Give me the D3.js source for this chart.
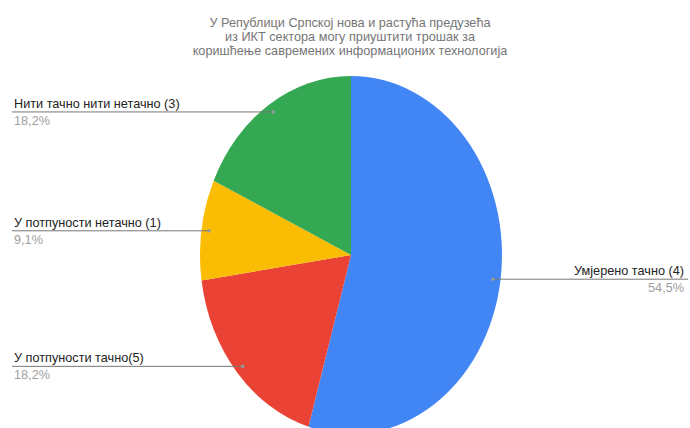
<!DOCTYPE html>
<html lang="sr">
<head>
<meta charset="utf-8">
<script src="https://d3js.org/d3.v7.min.js"></script>
<style>
body { margin: 0; background: #fff; font-family: Arial, "Liberation Sans", sans-serif; }
</style>
</head>
<body>
<div id="chart"></div>
<script>
// data
var titleLines = [
  "У Републици Српској нова и растућа предузећа",
  "из ИКТ сектора могу приуштити трошак за",
  "коришћење савремених информационих технологија"
];
var labels = ["Умјерено тачно (4)", "У потпуности тачно(5)", "У потпуности нетачно (1)", "Нити тачно нити нетачно (3)"];
var counts = [6, 2, 1, 2];
var percents = ["54,5%", "18,2%", "9,1%", "18,2%"];
var colors = ["#4285f4", "#ea4335", "#fbbc04", "#34a853"];

var width = 690, height = 428;
var cx = 351, cy = 255;
var rx = 151, ry = 179;

var svg = d3.select("#chart").append("svg")
  .attr("width", width)
  .attr("height", height);

// title
svg.append("g").selectAll("text")
  .data(titleLines)
  .enter().append("text")
  .attr("x", 350)
  .attr("y", function(d, i) { return 27 + i * 14; })
  .attr("text-anchor", "middle")
  .style("font-size", "12.7px")
  .style("fill", "#757575")
  .text(function(d) { return d; });

var pie = d3.pie().sort(null).value(function(d) { return d; });
var arcs = pie(counts);

var arc = d3.arc().innerRadius(0).outerRadius(rx);

// pie drawn as circle, stretched vertically
var g = svg.append("g")
  .attr("transform", "translate(" + cx + "," + cy + ") scale(1," + (ry / rx) + ")");

g.selectAll("path")
  .data(arcs)
  .enter().append("path")
  .attr("d", arc)
  .style("fill", function(d, i) { return colors[i]; });

// label anchor points
function anchor(d) {
  var a = (d.startAngle + d.endAngle) / 2;
  return [cx + Math.sin(a) * rx * 0.95, cy - Math.cos(a) * ry * 0.95];
}

var lab = svg.append("g").selectAll("g")
  .data(arcs)
  .enter().append("g");

lab.append("line")
  .attr("x1", function(d) { return anchor(d)[0]; })
  .attr("y1", function(d) { return anchor(d)[1]; })
  .attr("x2", function(d) { return anchor(d)[0] > cx ? 688 : 12; })
  .attr("y2", function(d) { return anchor(d)[1]; })
  .style("stroke", "#777")
  .style("stroke-width", 1);

lab.append("circle")
  .attr("cx", function(d) { return anchor(d)[0]; })
  .attr("cy", function(d) { return anchor(d)[1]; })
  .attr("r", 1.8)
  .style("fill", "#999");

lab.append("text")
  .attr("x", function(d) { return anchor(d)[0] > cx ? 684 : 14; })
  .attr("y", function(d) { return anchor(d)[1] - 4; })
  .attr("text-anchor", function(d) { return anchor(d)[0] > cx ? "end" : "start"; })
  .style("font-size", "12.7px")
  .style("fill", "#222")
  .text(function(d, i) { return labels[i]; });

lab.append("text")
  .attr("x", function(d) { return anchor(d)[0] > cx ? 684 : 14; })
  .attr("y", function(d) { return anchor(d)[1] + 13; })
  .attr("text-anchor", function(d) { return anchor(d)[0] > cx ? "end" : "start"; })
  .style("font-size", "12.7px")
  .style("fill", "#9e9e9e")
  .text(function(d, i) { return percents[i]; });
</script>
</body>
</html>
